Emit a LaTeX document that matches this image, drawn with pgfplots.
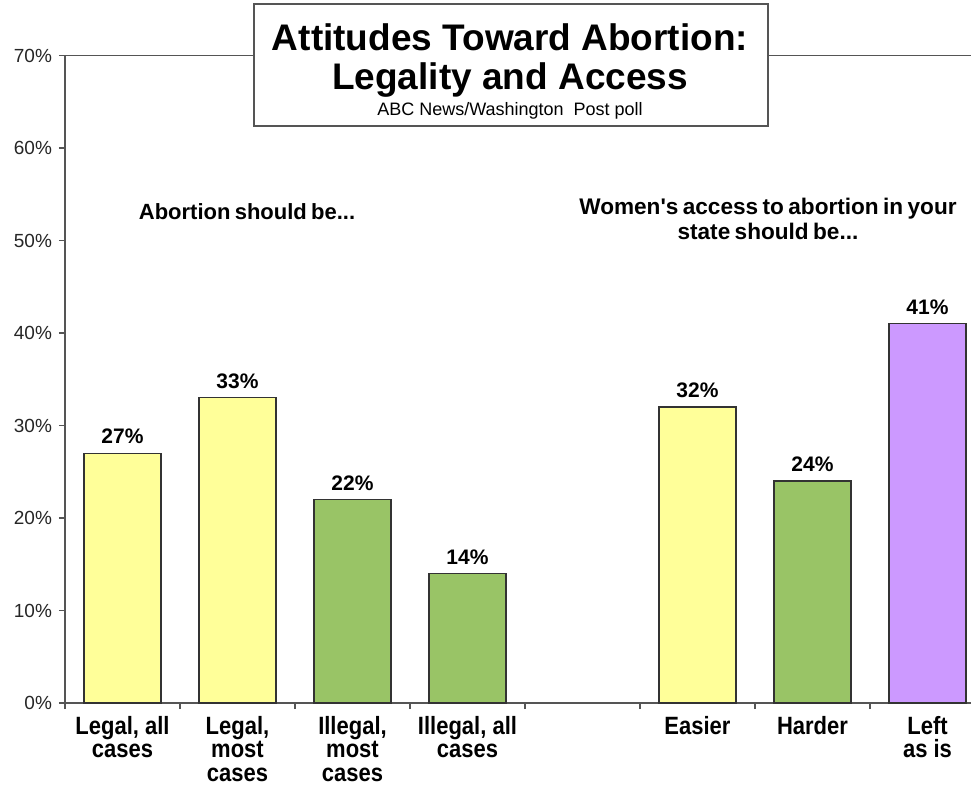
\documentclass[border=0pt]{standalone}
\usepackage{pgfplots}
\pgfplotsset{compat=1.18}
\usepackage{fontspec}
\setmainfont{Liberation Sans}
\newfontfamily\narrowfont[FakeStretch=0.88]{Liberation Sans}
\newfontfamily\tightfont[WordSpace=0.7]{Liberation Sans}
\definecolor{barYellow}{HTML}{FFFF99}
\definecolor{barGreen}{HTML}{99C466}
\definecolor{barPurple}{HTML}{CC99FF}
\definecolor{axisGray}{HTML}{555555}

\begin{document}
\begin{tikzpicture}
  \begin{axis}[
      scale only axis,
      width=460pt, height=323.75pt,
      xmin=-0.5, xmax=7.5,
      ymin=0, ymax=70,
      clip=false,
      /pgf/number format/assume math mode=true,
      axis line style={axisGray, line width=0.8pt},
      tick style={axisGray, line width=0.8pt},
      tick align=outside,
      xtick pos=bottom, ytick pos=left,
      ytick={0,10,...,70},
      yticklabel={\pgfmathprintnumber{\tick}\%},
      yticklabel style={font=\fontsize{9.5}{11}\selectfont, text=black!85},
      xtick={0,1,2,3,5,6,7},
      xticklabels={{Legal, all\\cases},{Legal,\\most\\cases},{Illegal,\\most\\cases},{Illegal, all\\cases},{Easier},{Harder},{Left\\as is}},
      xticklabel style={align=center, font=\narrowfont\bfseries\fontsize{12.5}{11.8}\selectfont, anchor=north, yshift=0pt},
      major x tick style={draw=none},
      minor xtick={-0.5,0.5,...,7.5},
      minor tick length=3pt,
      major tick length=3pt,
      ybar, bar width=38.5pt, bar shift=0pt,
      nodes near coords={\pgfmathprintnumber{\pgfplotspointmeta}\%},
      nodes near coords style={font=\bfseries\fontsize{10.5}{12}\selectfont, yshift=1pt},
    ]
    \addplot[fill=barYellow, draw=black!80, line width=0.6pt] coordinates {(0,27) (1,33) (5,32)};
    \addplot[fill=barGreen, draw=black!80, line width=0.6pt] coordinates {(2,22) (3,14) (6,24)};
    \addplot[fill=barPurple, draw=black!80, line width=0.6pt] coordinates {(7,41)};

    \coordinate (ll) at (rel axis cs:0,0);
    \draw[fill=white, draw=axisGray, line width=0.8pt] (axis cs:1.143,75.57) rectangle (axis cs:5.613,62.38);
    \node[font=\bfseries\fontsize{18.5}{20}\selectfont] at (axis cs:3.37,72.0) {Attitudes Toward Abortion:};
    \node[font=\bfseries\fontsize{18.5}{20}\selectfont] at (axis cs:3.37,67.3) {Legality and Access};
    \node[font=\fontsize{9}{10.5}\selectfont] at (axis cs:3.37,64.0) {ABC News/Washington\ \ Post poll};
    \node[font=\tightfont\bfseries\fontsize{11}{12.5}\selectfont] at (axis cs:1.083,53.1) {Abortion should be...};
    \node[font=\tightfont\bfseries\fontsize{11.3}{12.5}\selectfont, align=center] at (axis cs:5.613,52.3) {Women's access to abortion in your\\state should be...};
  \end{axis}
  \pgfresetboundingbox
  \path ([shift={(-32.5pt,-42.5pt)}]ll) rectangle ([shift={(453pt,351.5pt)}]ll);
\end{tikzpicture}
\end{document}
